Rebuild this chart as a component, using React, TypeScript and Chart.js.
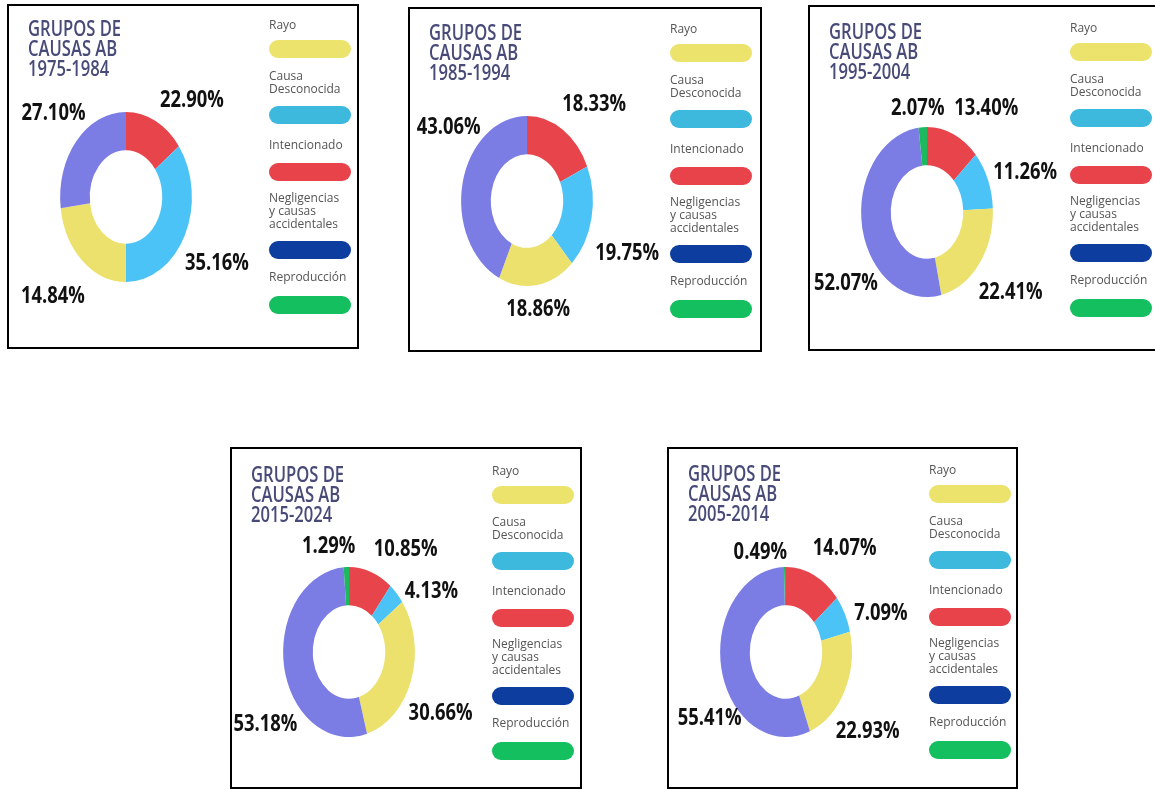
import React, { useEffect, useRef } from "react";
import { Chart, registerables } from "chart.js";

Chart.register(...registerables);

// ---------- data ----------
// slice order (clockwise from 12 o'clock)
const CATEGORIES = [
  "Intencionado",
  "Causa Desconocida",
  "Rayo",
  "Negligencias y causas accidentales",
  "Reproducción",
];
const SLICE_COLORS = ["#e8444b", "#4cc3f7", "#ebe16c", "#7b7ce4", "#1cb95e"];

// legend (order as shown at the right of every panel)
const LEGEND_LINES = [
  ["Rayo"],
  ["Causa", "Desconocida"],
  ["Intencionado"],
  ["Negligencias", "y causas", "accidentales"],
  ["Reproducción"],
];
const LEGEND_COLORS = ["#ebe36c", "#3db9de", "#e8434b", "#0c3d9f", "#13bf5f"];

const TITLE_LINES = ["GRUPOS DE", "CAUSAS AB"];
const PERIODS = ["1975-1984", "1985-1994", "1995-2004", "2015-2024", "2005-2014"];

const VALUES_1975 = [14.84, 35.16, 22.9, 27.1, 0];
const LABELS_1975 = ["22.90%", "35.16%", "14.84%", "27.10%", ""];

const VALUES_1985 = [18.33, 19.75, 18.86, 43.06, 0];
const LABELS_1985 = ["18.33%", "19.75%", "18.86%", "43.06%", ""];

const VALUES_1995 = [13.4, 11.26, 22.41, 52.07, 2.07];
const LABELS_1995 = ["13.40%", "11.26%", "22.41%", "52.07%", "2.07%"];

const VALUES_2015 = [10.85, 4.13, 30.66, 53.18, 1.29];
const LABELS_2015 = ["10.85%", "4.13%", "30.66%", "53.18%", "1.29%"];

const VALUES_2005 = [14.07, 7.09, 22.93, 55.41, 0.49];
const LABELS_2005 = ["14.07%", "7.09%", "22.93%", "55.41%", "0.49%"];

// ---------- layout ----------
const SQUEEZE = 0.775; // horizontal squeeze of the donut and bold texts
const RADIUS = 85;
const DONUT_CX = 117;

// label offsets, in units of the ring's outer radius, per slice
const OFFS_1975 = [[1.0, -1.15], [1.38, 0.76], [-1.11, 1.15], [-1.1, -1.0], [0, 0]];
const OFFS_1985 = [[1.02, -1.15], [1.52, 0.6], [0.17, 1.26], [-1.19, -0.88], [0, 0]];
const OFFS_1995 = [[0.9, -1.24], [1.49, -0.48], [1.27, 0.93], [-1.23, 0.82], [-0.14, -1.24]];
const OFFS_2015 = [[0.86, -1.22], [1.25, -0.73], [1.39, 0.7], [-1.27, 0.83], [-0.31, -1.26]];
const OFFS_2005 = [[0.89, -1.24], [1.44, -0.47], [1.24, 0.92], [-1.16, 0.76], [-0.39, -1.19]];

const PANELS = [
  { left: 7, top: 4, w: 352, h: 345, cy: 191, shift: 0, values: VALUES_1975, labels: LABELS_1975, offs: OFFS_1975, period: PERIODS[0] },
  { left: 408, top: 7, w: 354, h: 345, cy: 192, shift: 1, values: VALUES_1985, labels: LABELS_1985, offs: OFFS_1985, period: PERIODS[1] },
  { left: 808, top: 5, w: 354, h: 346, cy: 205, shift: 2, values: VALUES_1995, labels: LABELS_1995, offs: OFFS_1995, period: PERIODS[2] },
  { left: 230, top: 447, w: 352, h: 342, cy: 203, shift: 3, values: VALUES_2015, labels: LABELS_2015, offs: OFFS_2015, period: PERIODS[3] },
  { left: 667, top: 447, w: 351, h: 342, cy: 203, shift: 2, values: VALUES_2005, labels: LABELS_2005, offs: OFFS_2005, period: PERIODS[4] },
];

const TITLE_X = 19;
const TITLE_BASE = 30;
const LEGEND_X = 260;
const LEGEND_BASELINES = [23, 74, 143, 196, 275];
const PILL_TOPS = [34, 100, 157, 235, 290];
const PILL_W = 82;
const PILL_H = 18;
const LEGEND_LINE_H = 13;

function squeezedText(ctx: CanvasRenderingContext2D, text: string, x: number, y: number, sx: number, align: CanvasTextAlign) {
  ctx.save();
  ctx.translate(x, y);
  ctx.scale(sx, 1);
  ctx.textAlign = align;
  ctx.textBaseline = "alphabetic";
  ctx.fillText(text, 0, 0);
  ctx.restore();
}

function makePlugin(p: any) {
  return {
    id: "panelDecor",
    beforeDatasetsDraw(chart: any) {
      const arc = chart.getDatasetMeta(0).data[0];
      const ctx = chart.ctx;
      ctx.save();
      ctx.translate(arc.x, 0);
      ctx.scale(SQUEEZE, 1);
      ctx.translate(-arc.x, 0);
    },
    afterDatasetsDraw(chart: any) {
      chart.ctx.restore();
    },
    afterDraw(chart: any) {
      const ctx: CanvasRenderingContext2D = chart.ctx;
      const s = p.shift;
      // title
      ctx.fillStyle = "#484a78";
      ctx.font = '600 21px "Open Sans", sans-serif';
      const titles = [...TITLE_LINES, p.period];
      titles.forEach((t, i) => squeezedText(ctx, t, TITLE_X, TITLE_BASE + s + i * 20, 0.79, "left"));

      // legend
      ctx.font = '500 12px "Open Sans", sans-serif';
      LEGEND_LINES.forEach((lines, i) => {
        ctx.fillStyle = "#555555";
        ctx.textAlign = "left";
        ctx.textBaseline = "alphabetic";
        lines.forEach((ln, j) => ctx.fillText(ln, LEGEND_X, LEGEND_BASELINES[i] + s + j * LEGEND_LINE_H));
        ctx.fillStyle = LEGEND_COLORS[i];
        ctx.beginPath();
        (ctx as any).roundRect(LEGEND_X, PILL_TOPS[i] + s, PILL_W, PILL_H, PILL_H / 2);
        ctx.fill();
      });

      // percentage labels
      const meta = chart.getDatasetMeta(0);
      ctx.fillStyle = "#111111";
      ctx.font = 'bold 23px "Open Sans", sans-serif';
      meta.data.forEach((arc: any, i: number) => {
        const txt = p.labels[i];
        if (!txt) return;
        const [ox, oy] = p.offs[i];
        const R = arc.outerRadius;
        const x = arc.x + ox * R * SQUEEZE;
        const y = arc.y + oy * R + 8;
        squeezedText(ctx, txt, x, y, 0.8, "center");
      });
    },
  };
}

function Panel({ p }: { p: any }) {
  const ref = useRef<HTMLCanvasElement>(null);
  const cw = p.w - 4;
  const ch = p.h - 4;
  useEffect(() => {
    if (!ref.current) return;
    const chart = new Chart(ref.current, {
      type: "doughnut",
      data: {
        labels: CATEGORIES,
        datasets: [
          {
            data: p.values,
            backgroundColor: SLICE_COLORS,
            borderWidth: 0,
          },
        ],
      },
      options: {
        responsive: false,
        animation: false,
        events: [],
        cutout: "55%",
        layout: {
          padding: {
            left: DONUT_CX - RADIUS,
            right: cw - DONUT_CX - RADIUS,
            top: p.cy - RADIUS,
            bottom: ch - p.cy - RADIUS,
          },
        },
        plugins: {
          legend: { display: false },
          tooltip: { enabled: false },
          title: { display: false },
        },
      } as any,
      plugins: [makePlugin(p)],
    });
    return () => chart.destroy();
  }, []);
  return (
    <div
      style={{
        position: "absolute",
        left: p.left,
        top: p.top,
        width: p.w,
        height: p.h,
        border: "2px solid #000",
        boxSizing: "border-box",
        background: "#fff",
      }}
    >
      <canvas ref={ref} width={cw} height={ch} style={{ width: cw, height: ch, display: "block" }} />
    </div>
  );
}

export default function App() {
  return (
    <div
      style={{
        position: "absolute",
        left: 0,
        top: 0,
        width: 1155,
        height: 789,
        overflow: "hidden",
        background: "#fff",
      }}
    >
      {PANELS.map((p, i) => (
        <Panel key={i} p={p} />
      ))}
    </div>
  );
}
